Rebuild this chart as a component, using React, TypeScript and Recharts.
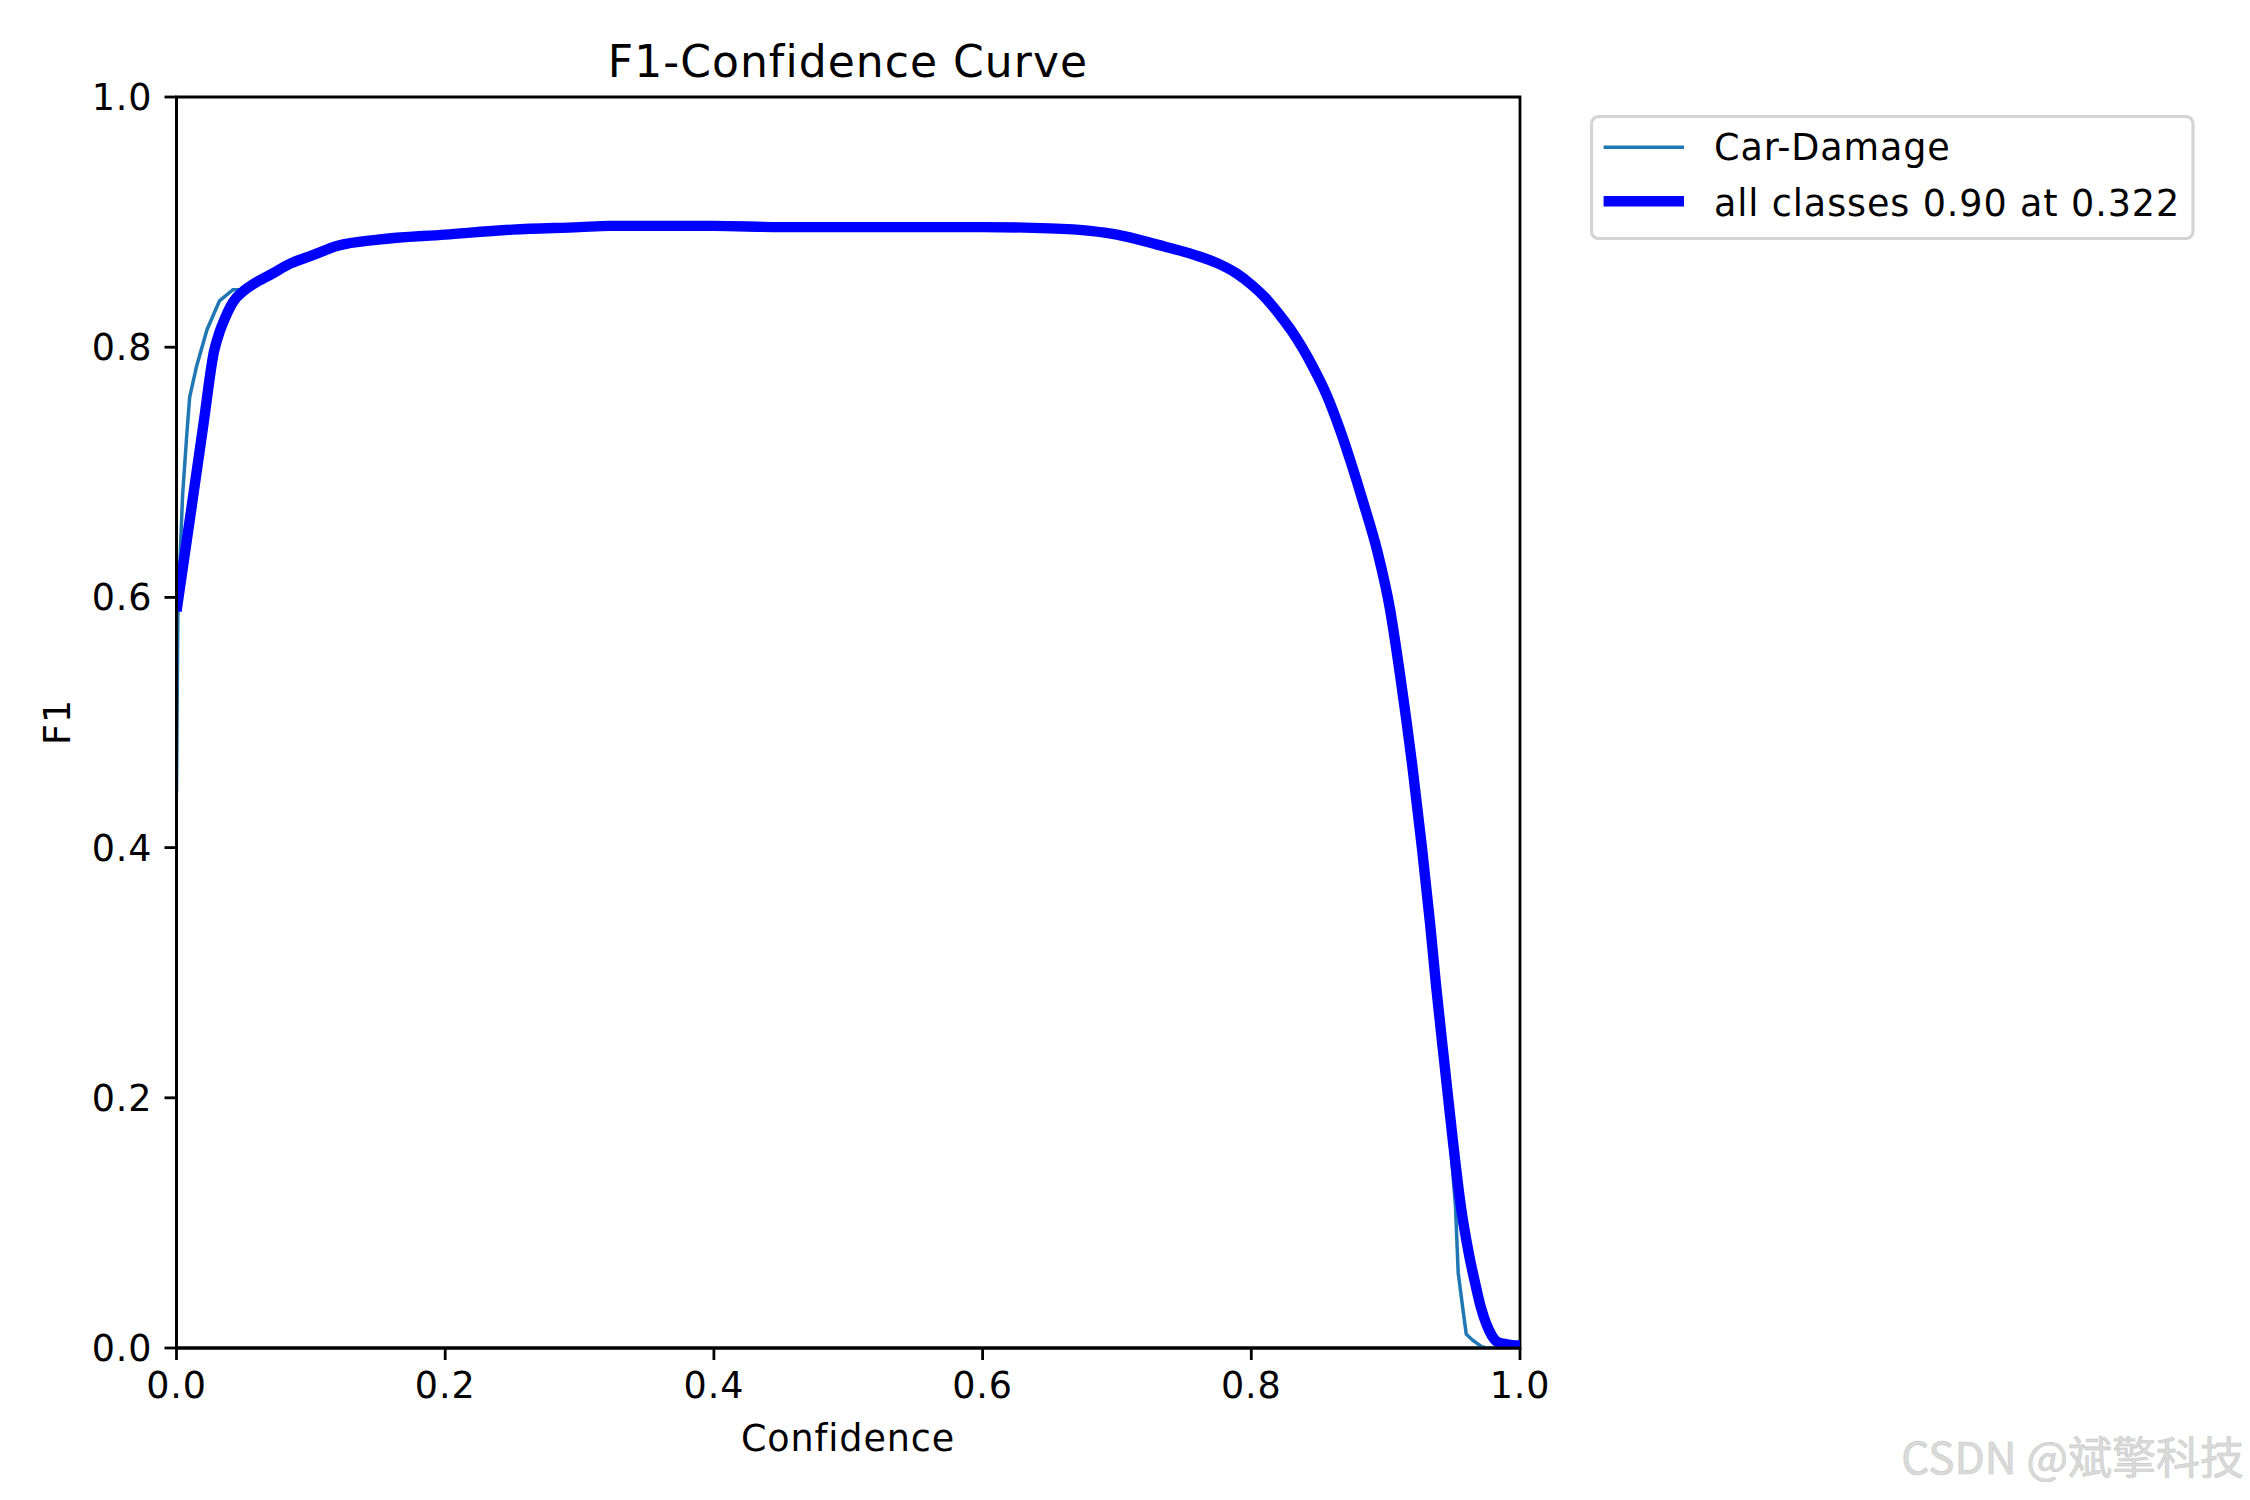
import React from 'react';
import {
  LineChart,
  Line,
  XAxis,
  YAxis,
  ReferenceArea,
  Legend,
  Customized,
} from 'recharts';

// ---- data ----
const xTicks = [0, 0.2, 0.4, 0.6, 0.8, 1.0];
const yTicks = [0, 0.2, 0.4, 0.6, 0.8, 1.0];

const classLabel = 'Car-Damage';
const allLabel = 'all classes 0.90 at 0.322';

const carDamageConf = [
  0.0, 0.001, 0.0045, 0.0077, 0.0098, 0.015, 0.0227, 0.032, 0.042, 0.05, 0.058,
  0.07, 0.085, 0.1, 0.12, 0.15, 0.2, 0.25, 0.3, 0.322, 0.35, 0.4, 0.45, 0.5,
  0.55, 0.6, 0.65, 0.68, 0.7, 0.73, 0.757, 0.775, 0.789, 0.8, 0.81, 0.821,
  0.83, 0.846, 0.856, 0.866, 0.875, 0.883, 0.894, 0.903, 0.911, 0.92, 0.927,
  0.933, 0.9375, 0.944, 0.948, 0.952, 0.954, 0.958, 0.96, 0.965, 0.9715,
  0.975, 1.0,
];
const carDamageF1 = [
  0.444, 0.586, 0.681, 0.731, 0.76, 0.785, 0.814, 0.837, 0.846, 0.846, 0.851,
  0.858, 0.867, 0.873, 0.881, 0.886, 0.89, 0.894, 0.896, 0.897, 0.897, 0.897,
  0.896, 0.896, 0.896, 0.896, 0.895, 0.893, 0.89, 0.882, 0.874, 0.867, 0.859,
  0.85, 0.84, 0.826, 0.813, 0.784, 0.762, 0.734, 0.705, 0.677, 0.636, 0.592,
  0.536, 0.464, 0.4, 0.34, 0.29, 0.225, 0.166, 0.113, 0.06, 0.027, 0.011,
  0.006, 0.001, 0.0, 0.0,
];

const allConf = [
  0.0, 0.01, 0.02, 0.028, 0.032, 0.036, 0.042, 0.05, 0.058, 0.07, 0.085, 0.1,
  0.12, 0.15, 0.2, 0.25, 0.3, 0.322, 0.35, 0.4, 0.45, 0.5, 0.55, 0.6, 0.65,
  0.68, 0.7, 0.73, 0.757, 0.775, 0.789, 0.8, 0.81, 0.821, 0.83, 0.846, 0.856,
  0.866, 0.875, 0.883, 0.894, 0.903, 0.911, 0.92, 0.927, 0.933, 0.9375, 0.944,
  0.95, 0.956, 0.962, 0.967, 0.971, 0.975, 0.979, 0.983, 0.99, 1.0,
];
const allF1 = [
  0.589, 0.663, 0.738, 0.797, 0.812, 0.823, 0.836, 0.845, 0.851, 0.858, 0.867,
  0.873, 0.881, 0.886, 0.89, 0.894, 0.896, 0.897, 0.897, 0.897, 0.896, 0.896,
  0.896, 0.896, 0.895, 0.893, 0.89, 0.882, 0.874, 0.867, 0.859, 0.85, 0.84,
  0.826, 0.813, 0.784, 0.762, 0.734, 0.705, 0.677, 0.636, 0.592, 0.536, 0.464,
  0.4, 0.34, 0.29, 0.225, 0.166, 0.113, 0.075, 0.05, 0.032, 0.019, 0.01,
  0.005, 0.003, 0.002,
];

const classData = carDamageConf.map((x, i) => ({ x, f: carDamageF1[i] }));
const allData = allConf.map((x, i) => ({ x, f: allF1[i] }));

const FONT = 'DejaVu Sans';
const FS = 36.5;
const LS = 0.9;

const Texts = () => (
  <g>
    <text
      x={848}
      y={76.5}
      textAnchor="middle"
      fontFamily={FONT}
      fontSize={44}
      letterSpacing={1.05}
      fill="#000"
    >
      F1-Confidence Curve
    </text>
    <text
      x={848}
      y={1451}
      textAnchor="middle"
      fontFamily={FONT}
      fontSize={FS}
      letterSpacing={LS}
      fill="#000"
    >
      Confidence
    </text>
    <text
      x={70}
      y={722}
      textAnchor="middle"
      fontFamily={FONT}
      fontSize={FS}
      letterSpacing={LS}
      fill="#000"
      transform="rotate(-90 70 722)"
    >
      F1
    </text>
    <text
      x={2244}
      y={1474}
      textAnchor="end"
      fontFamily="Noto Sans CJK SC"
      fontSize={44}
      fill="#dadada"
      stroke="#c9c9c9"
      strokeWidth={0.6}
    >
      CSDN @斌擎科技
    </text>
  </g>
);

const LegendBox = () => (
  <svg width={612} height={132} style={{ display: 'block' }}>
    <rect
      x={3.5}
      y={3.5}
      width={601.5}
      height={122}
      rx={7}
      ry={7}
      fill="#ffffff"
      fillOpacity={0.8}
      stroke="#d4d4d4"
      strokeWidth={3.2}
    />
    <line x1={15.6} x2={96} y1={34.2} y2={34.2} stroke="#1f77b4" strokeWidth={3.5} />
    <text x={126} y={46.5} fontFamily={FONT} fontSize={FS} letterSpacing={LS} fill="#000">
      {classLabel}
    </text>
    <line x1={15.6} x2={96} y1={88.2} y2={88.2} stroke="#0000ff" strokeWidth={10.4} />
    <text x={126} y={102.5} fontFamily={FONT} fontSize={FS} letterSpacing={LS} fill="#000">
      {allLabel}
    </text>
  </svg>
);

export default function App() {
  return (
    <div style={{ position: 'absolute', left: 0, top: 0, width: 2250, height: 1500, background: '#fff' }}>
      <LineChart
        width={2250}
        height={1500}
        margin={{ top: 97, right: 730, left: 0.5, bottom: 0 }}
      >
        <XAxis
          dataKey="x"
          type="number"
          domain={[0, 1]}
          ticks={xTicks}
          allowDataOverflow
          height={152}
          tickFormatter={(v: number) => v.toFixed(1)}
          tick={{ fontSize: FS, fill: '#000', fontFamily: FONT, letterSpacing: LS }}
          tickSize={12}
          tickMargin={12}
          axisLine={{ stroke: '#000', strokeWidth: 2.8 }}
          tickLine={{ stroke: '#000', strokeWidth: 2.8 }}
        />
        <YAxis
          type="number"
          domain={[0, 1]}
          ticks={yTicks}
          allowDataOverflow
          width={176}
          tickFormatter={(v: number) => v.toFixed(1)}
          tick={{ fontSize: FS, fill: '#000', fontFamily: FONT, letterSpacing: LS }}
          tickSize={12}
          tickMargin={12}
          axisLine={{ stroke: '#000', strokeWidth: 2.8 }}
          tickLine={{ stroke: '#000', strokeWidth: 2.8 }}
        />
        <Line
          data={classData}
          dataKey="f"
          name={classLabel}
          type="linear"
          stroke="#1f77b4"
          strokeWidth={3.5}
          dot={false}
          activeDot={false}
          isAnimationActive={false}
        />
        <Line
          data={allData}
          dataKey="f"
          name={allLabel}
          type="monotone"
          stroke="#0000ff"
          strokeWidth={10.4}
          strokeLinejoin="round"
          dot={false}
          activeDot={false}
          isAnimationActive={false}
        />
        <ReferenceArea
          x1={0}
          x2={1}
          y1={0}
          y2={1}
          fill="none"
          stroke="#000"
          strokeWidth={2.8}
          ifOverflow="visible"
        />
        <Legend
          layout="vertical"
          align="center"
          verticalAlign="middle"
          content={() => <LegendBox />}
          wrapperStyle={{ position: 'absolute', left: 1588, top: 112.5, width: 612, height: 132 }}
        />
        <Customized component={Texts} />
      </LineChart>
    </div>
  );
}
